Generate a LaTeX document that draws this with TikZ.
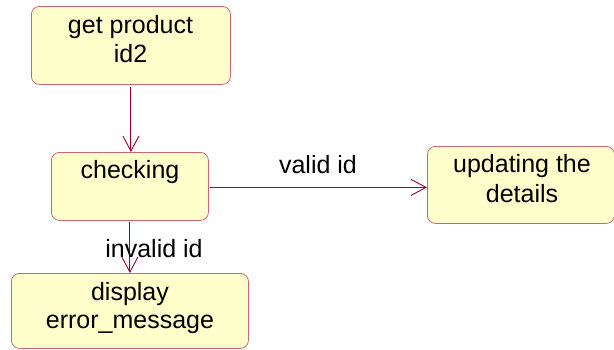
\documentclass[tikz,border=0pt]{standalone}
\usepackage{fontspec}
\setmainfont{Liberation Sans}
\usetikzlibrary{arrows.meta}
\definecolor{boxfill}{RGB}{255,255,204}
\definecolor{boxline}{RGB}{204,102,119}
\definecolor{arrcol}{RGB}{153,0,51}
\begin{document}
\begin{tikzpicture}[x=1pt,y=-1pt,
  statebox/.style={draw=boxline,fill=boxfill,rounded corners=8pt,line width=0.8pt,inner sep=0pt,anchor=north west},
  txt/.style={font=\fontsize{25}{29}\selectfont,align=center,inner sep=0pt,anchor=base},
  arr/.style={draw=arrcol,line width=0.9pt,-{Straight Barb[length=15pt,width=16pt,line width=0.9pt]}}]
\useasboundingbox (0,0) rectangle (614,349);
\node[statebox,minimum width=199pt,minimum height=78pt] (a) at (31,6) {};
\node[statebox,minimum width=157pt,minimum height=68pt] (b) at (51,152) {};
\node[statebox,minimum width=187pt,minimum height=77pt] (c) at (427,146) {};
\node[statebox,minimum width=237pt,minimum height=75pt] (d) at (11,273) {};
\node[txt] (ta1) at (130.5,33) {get product};
\node[txt] (ta2) at (130.5,62) {id2};
\node[txt] (tb) at (130,178) {checking};
\node[txt] (tc1) at (522,172) {updating the};
\node[txt] (tc2) at (522,202) {details};
\node[txt] (td1) at (130,300) {display};
\node[txt] (td2) at (130,328) {error\_message};
\draw[arr,shorten <=2pt] (a.south) -- (a.south |- b.north);
\draw[arr,shorten <=1pt] ([yshift=-1pt]b.east) -- ([yshift=-1pt]b.east -| c.west);
\draw[arr,shorten <=1pt] (b.south) -- (b.south |- d.north);
\node[txt] (lv) at (318,173) {valid id};
\node[txt] (li) at (154,257) {invalid id};
\end{tikzpicture}
\end{document}
